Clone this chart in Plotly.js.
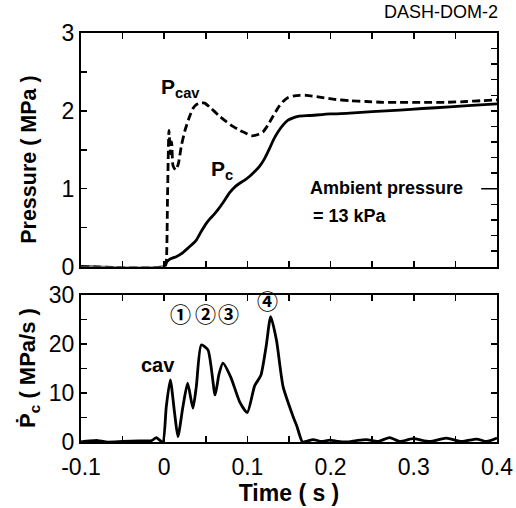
<!DOCTYPE html>
<html>
<head>
<meta charset="utf-8">
<script src="https://cdn.plot.ly/plotly-3.0.1.min.js"></script>
<style>html,body{margin:0;padding:0;background:#fff;}#chart{width:516px;height:508px;}</style>
</head>
<body>
<div id="chart"></div>
<script>
// Top panel: chamber pressure Pc (solid) and cavity pressure Pcav (dashed), MPa
var tPc = [-0.1, 0.0, 0.0017, 0.006, 0.015, 0.0225, 0.030, 0.0386, 0.045, 0.0506, 0.0546, 0.060, 0.0646, 0.0706, 0.0787, 0.0857, 0.0907, 0.0968, 0.1028, 0.1088, 0.1148, 0.1208, 0.1268, 0.131, 0.1369, 0.143, 0.1489, 0.155, 0.161, 0.175, 0.2, 0.223, 0.25, 0.283, 0.31, 0.343, 0.37, 0.40];
var Pc  = [0, 0, 0.04, 0.09, 0.13, 0.18, 0.25, 0.34, 0.46, 0.555, 0.61, 0.67, 0.73, 0.82, 0.95, 1.03, 1.07, 1.11, 1.16, 1.22, 1.29, 1.39, 1.52, 1.62, 1.73, 1.82, 1.88, 1.91, 1.93, 1.94, 1.96, 1.97, 1.99, 2.01, 2.03, 2.05, 2.07, 2.09];

var tPcav = [-0.1, 0.001, 0.0025, 0.004, 0.0057, 0.0075, 0.009, 0.0105, 0.0137, 0.017, 0.0206, 0.025, 0.0306, 0.0346, 0.0386, 0.0436, 0.0486, 0.0546, 0.0606, 0.0666, 0.0747, 0.0827, 0.0907, 0.0987, 0.1048, 0.1108, 0.1188, 0.1248, 0.1308, 0.1369, 0.1429, 0.149, 0.155, 0.163, 0.171, 0.185, 0.203, 0.223, 0.243, 0.263, 0.283, 0.31, 0.34, 0.3635, 0.38, 0.40];
var Pcav  = [0, 0, 0.05, 0.9, 1.75, 1.45, 1.6, 1.3, 1.24, 1.32, 1.55, 1.75, 1.93, 2.03, 2.08, 2.10, 2.10, 2.05, 1.99, 1.93, 1.86, 1.80, 1.75, 1.71, 1.68, 1.69, 1.73, 1.82, 1.93, 2.04, 2.12, 2.17, 2.19, 2.20, 2.20, 2.18, 2.15, 2.13, 2.12, 2.11, 2.11, 2.11, 2.11, 2.12, 2.13, 2.14];

// Bottom panel: dPc/dt, MPa/s
var tRate = [-0.1, -0.09, -0.08, -0.07, -0.05, -0.03, -0.015, -0.0095, -0.005, -0.0015, 0.0025, 0.0073, 0.0125, 0.0165, 0.0225, 0.0282, 0.0345, 0.0386, 0.0446, 0.0526, 0.0612, 0.0658, 0.0706, 0.0801, 0.0907, 0.0998, 0.1088, 0.1162, 0.1225, 0.128, 0.1349, 0.1429, 0.1549, 0.1597, 0.1662, 0.172, 0.179, 0.189, 0.199, 0.209, 0.219, 0.231, 0.243, 0.257, 0.271, 0.283, 0.299, 0.319, 0.339, 0.3575, 0.3755, 0.3876, 0.40];
var rate  = [0, 0.2, 0.3, 0, 0.1, 0.2, 0.3, 0.9, 0.3, 0, 7.2, 12.7, 5.9, 1.1, 7.2, 12.0, 6.9, 11.3, 19.8, 18.8, 9.6, 13.8, 16.1, 13.2, 8.2, 6.0, 11.5, 13.6, 19.5, 25.6, 20.8, 11.3, 5.2, 3.1, 0, 0.2, 0.5, 0.1, 0.4, 0.1, 0, 0.3, 0.5, 0.1, 0.9, 0.1, 0.7, 0.1, 0.8, 0.1, 0.6, 0.1, 0.8];

// Tick labels
var xTickVals = [-0.1, 0, 0.1, 0.2, 0.3, 0.4];
var xTickText = ['-0.1', '0', '0.1', '0.2', '0.3', '0.4'];
var yTopTickVals = [0, 1, 2, 3];
var yBotTickVals = [0, 10, 20, 30];

var blk = '#000';
var traces = [
  {x: tPcav, y: Pcav, xaxis: 'x', yaxis: 'y', mode: 'lines', name: 'Pcav',
   line: {color: blk, width: 2.8, dash: '8px,4px', shape: 'spline', smoothing: 0.5}, hoverinfo: 'skip'},
  {x: tPc, y: Pc, xaxis: 'x', yaxis: 'y', mode: 'lines', name: 'Pc',
   line: {color: blk, width: 2.8, shape: 'spline', smoothing: 0.6}, hoverinfo: 'skip'},
  {x: [null], y: [null], xaxis: 'x', yaxis: 'y3', mode: 'lines', showlegend: false, hoverinfo: 'skip'},
  {x: tRate, y: rate, xaxis: 'x2', yaxis: 'y2', mode: 'lines', name: 'dPc/dt',
   line: {color: blk, width: 2.8, shape: 'spline', smoothing: 0.6}, hoverinfo: 'skip'}
];

var fam = '"Liberation Sans", Arial, Helvetica, sans-serif';
var cjk = '"Noto Sans CJK JP", "DejaVu Sans", sans-serif';
var axBase = {showline: true, linecolor: blk, linewidth: 2, showgrid: false, zeroline: false,
  ticks: 'inside', ticklen: 6, tickwidth: 1.5, tickcolor: blk};

var layout = {
  width: 516, height: 508,
  margin: {l: 81, r: 19, t: 33, b: 66},
  paper_bgcolor: '#fff', plot_bgcolor: '#fff',
  showlegend: false,
  font: {family: fam, color: blk},
  xaxis: Object.assign({}, axBase, {domain: [0, 1], anchor: 'y', range: [-0.1, 0.4],
    tick0: 0, dtick: 0.05, showticklabels: false, mirror: 'ticks'}),
  yaxis: Object.assign({}, axBase, {domain: [0.429, 1], anchor: 'x', range: [0, 3],
    tickvals: yTopTickVals, ticktext: yTopTickVals.map(String),
    minor: {dtick: 0.5, tick0: 0, ticks: 'inside', ticklen: 6, tickwidth: 1.5, tickcolor: blk},
    mirror: true, tickfont: {size: 23, family: fam}}),
  yaxis3: {overlaying: 'y', side: 'right', anchor: 'x', range: [0, 3], tick0: 0, dtick: 0.2,
    ticks: 'inside', ticklen: 6, tickwidth: 1.5, tickcolor: blk, showticklabels: false,
    showline: false, showgrid: false, zeroline: false},
  xaxis2: Object.assign({}, axBase, {domain: [0, 1], anchor: 'y2', range: [-0.1, 0.4],
    tickvals: xTickVals, ticktext: xTickText, ticklabelstandoff: 3,
    minor: {dtick: 0.05, tick0: 0, ticks: 'inside', ticklen: 6, tickwidth: 1.5, tickcolor: blk},
    mirror: 'ticks', tickfont: {size: 23, family: fam},
    title: {text: '<b>Time ( s )</b>', font: {size: 23, family: fam}, standoff: 2}}),
  yaxis2: Object.assign({}, axBase, {domain: [0, 0.3594], anchor: 'x2', range: [0, 30],
    tickvals: yBotTickVals, ticktext: yBotTickVals.map(String),
    minor: {dtick: 5, tick0: 0, ticks: 'inside', ticklen: 6, tickwidth: 1.5, tickcolor: blk},
    mirror: 'ticks', tickfont: {size: 23, family: fam}}),
  shapes: [
    {type: 'line', xref: 'x', yref: 'y', x0: 0.381, x1: 0.4, y0: 1.0, y1: 1.0,
     line: {color: blk, width: 1.5}}
  ],
  annotations: [
    {xref: 'paper', yref: 'paper', x: -0.125, y: 0.69, textangle: -90, xanchor: 'center', yanchor: 'middle',
     text: '<b>Pressure ( MPa )</b>', showarrow: false, font: {size: 21.5, family: fam}},
    {xref: 'paper', yref: 'paper', x: -0.125, y: 0.181, textangle: -90, xanchor: 'center', yanchor: 'middle',
     text: '<b>Ṗ<sub>c</sub> ( MPa/s )</b>', showarrow: false, font: {size: 22, family: fam}},
    {xref: 'paper', yref: 'paper', x: 1.007, y: 1.052, xanchor: 'right', yanchor: 'middle',
     text: 'DASH-DOM-2', showarrow: false, font: {size: 18, family: fam}},
    {xref: 'x', yref: 'y', x: 0.0197, y: 2.29, text: '<b>P<sub>cav</sub></b>', showarrow: false,
     font: {size: 21, family: fam}},
    {xref: 'x', yref: 'y', x: 0.069, y: 1.24, text: '<b>P<sub>c</sub></b>', showarrow: false,
     font: {size: 21, family: fam}},
    {xref: 'x', yref: 'y', x: 0.1726, y: 1.01, xanchor: 'left', text: '<b>Ambient pressure</b>', showarrow: false,
     font: {size: 18, family: fam}},
    {xref: 'x', yref: 'y', x: 0.176, y: 0.65, xanchor: 'left', text: '<b>= 13 kPa</b>', showarrow: false,
     font: {size: 18, family: fam}},
    {xref: 'x2', yref: 'y2', x: -0.008, y: 15.7, text: '<b>cav</b>', showarrow: false,
     font: {size: 20, family: fam}},
    {xref: 'x2', yref: 'y2', x: 0.0197, y: 26.3, text: '<b>①</b>', showarrow: false,
     font: {size: 21, family: cjk}},
    {xref: 'x2', yref: 'y2', x: 0.0498, y: 26.3, text: '<b>②</b>', showarrow: false,
     font: {size: 21, family: cjk}},
    {xref: 'x2', yref: 'y2', x: 0.0775, y: 26.3, text: '<b>③</b>', showarrow: false,
     font: {size: 21, family: cjk}},
    {xref: 'x2', yref: 'y2', x: 0.1238, y: 29.0, text: '<b>④</b>', showarrow: false,
     font: {size: 21, family: cjk}}
  ]
};

Plotly.newPlot('chart', traces, layout, {displayModeBar: false, staticPlot: true});
</script>
</body>
</html>
